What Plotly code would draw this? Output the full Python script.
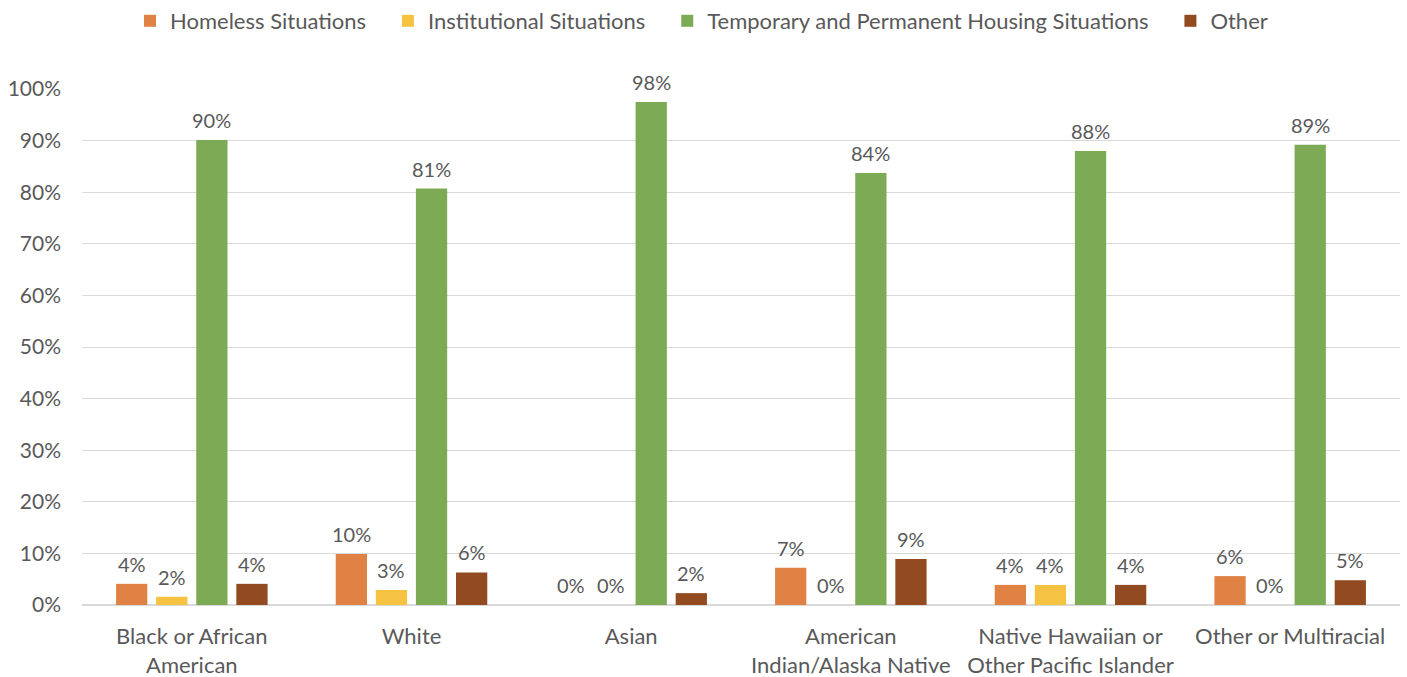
import plotly.graph_objects as go

categories = [
    "Black or African<br>American",
    "White",
    "Asian",
    "American<br>Indian/Alaska Native",
    "Native Hawaiian or<br>Other Pacific Islander",
    "Other or Multiracial",
]

homeless = [0.041, 0.099, 0.0, 0.072, 0.039, 0.056]
institutional = [0.016, 0.029, 0.0, 0.0, 0.039, 0.0]
housing = [0.901, 0.807, 0.975, 0.837, 0.880, 0.892]
other = [0.041, 0.063, 0.023, 0.089, 0.039, 0.048]

series_names = [
    "Homeless Situations",
    "Institutional Situations",
    "Temporary and Permanent Housing Situations",
    "Other",
]
series_values = [homeless, institutional, housing, other]
series_colors = ["#E08244", "#F5C242", "#7DAB55", "#924B20"]

FONT = "Lato"
GREY = "#595959"

W, H = 1407, 677
ML, MR, MT, MB = 82, 7, 89, 72
BARGAP = 0.27
BARGROUPGAP = 0.22

# non-breaking spaces widen the gap between legend entries
LEGEND_PAD = "\u00a0" * 3

fig = go.Figure()
n_series = len(series_names)
for i, (name, vals, color) in enumerate(zip(series_names, series_values, series_colors)):
    fig.add_trace(go.Bar(
        name=name + (LEGEND_PAD if i < n_series - 1 else ""),
        x=categories,
        y=vals,
        marker=dict(color=color, line=dict(width=0)),
    ))

# value labels above each bar, shifted sideways to the bar's slot in its group
plot_w = W - ML - MR
cat_px = plot_w / len(categories)
slot_px = cat_px * (1 - BARGAP) / n_series
for i, vals in enumerate(series_values):
    dx = (i - (n_series - 1) / 2) * slot_px
    for cat, v in zip(categories, vals):
        fig.add_annotation(
            x=cat, y=v, xref="x", yref="y",
            text=f"{v:.0%}",
            showarrow=False,
            xanchor="center", yanchor="bottom",
            xshift=dx, yshift=6,
            font=dict(family=FONT, size=20, color=GREY),
        )

fig.update_layout(
    barmode="group",
    bargap=BARGAP,
    bargroupgap=BARGROUPGAP,
    width=W,
    height=H,
    margin=dict(l=ML, r=MR, t=MT, b=MB),
    paper_bgcolor="white",
    plot_bgcolor="white",
    font=dict(family=FONT, size=20, color=GREY),
    showlegend=True,
    legend=dict(
        orientation="h",
        # centre the legend on the page rather than on the plot area
        x=(W / 2 - 2 - ML) / plot_w, xanchor="center",
        y=1.0, yanchor="top",
        yref="container",
        font=dict(family=FONT, size=22, color=GREY),
        itemwidth=30,
        traceorder="normal",
    ),
)

fig.update_yaxes(
    range=[0, 1.0],
    tickvals=[i / 10 for i in range(11)],
    tickformat=".0%",
    showgrid=True,
    gridcolor="#D9D9D9",
    gridwidth=1,
    zeroline=True,
    zerolinecolor="#D9D9D9",
    showline=False,
    ticks="",
    automargin=False,
    ticklabelstandoff=20,
    tickfont=dict(family=FONT, size=21, color=GREY),
)
fig.update_xaxes(
    showline=True,
    linecolor="#D9D9D9",
    ticks="",
    automargin=False,
    ticklabelstandoff=12,
    tickfont=dict(family=FONT, size=22, color=GREY),
)

fig.write_html("out.html")
